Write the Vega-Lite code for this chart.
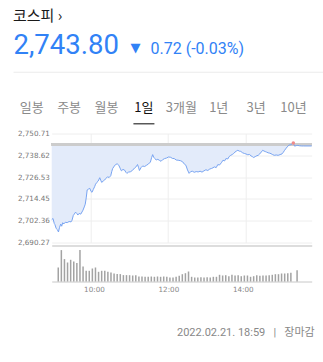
{
  "$schema": "https://vega.github.io/schema/vega-lite/v6.json",
  "background": "white",
  "padding": {"left": 13, "top": 9, "right": 0, "bottom": 0},
  "config": {"view": {"stroke": null}},
  "title": {"text": "코스피 ›", "anchor": "start", "font": "Noto Sans CJK KR", "fontSize": 15, "fontWeight": "normal", "color": "#1a1a1a", "offset": 8},
  "spacing": 4.75,
  "vconcat": [
    {
      "spacing": 9,
      "hconcat": [
        {"width": 1, "height": 24.5, "data": {"values": [{"v": "2,743.80"}]},
         "mark": {"type": "text", "align": "left", "baseline": "alphabetic", "font": "Roboto", "fontSize": 27.5, "color": "#3182f6"},
         "encoding": {"text": {"field": "v"}}},
        {"width": 1, "height": 24.5, "data": {"values": [{"v": "▼"}]},
         "mark": {"type": "text", "align": "left", "baseline": "alphabetic", "font": "DejaVu Sans", "fontSize": 13, "color": "#3182f6", "dx": 2, "dy": -2},
         "encoding": {"text": {"field": "v"}}},
        {"width": 1, "height": 24.5, "data": {"values": [{"v": "0.72 (-0.03%)"}]},
         "mark": {"type": "text", "align": "left", "baseline": "alphabetic", "font": "Roboto", "fontSize": 16, "color": "#3182f6"},
         "encoding": {"text": {"field": "v"}}}
      ]
    },
    {
      "width": 310, "height": 52,
      "data": {"values": [
        {"tab": "일봉", "sel": 0}, {"tab": "주봉", "sel": 0}, {"tab": "월봉", "sel": 0}, {"tab": "1일", "sel": 1},
        {"tab": "3개월", "sel": 0}, {"tab": "1년", "sel": 0}, {"tab": "3년", "sel": 0}, {"tab": "10년", "sel": 0}
      ]},
      "encoding": {
        "x": {"field": "tab", "type": "nominal", "sort": null,
              "scale": {"domain": ["일봉", "주봉", "월봉", "1일", "3개월", "1년", "3년", "10년"], "paddingInner": 0, "paddingOuter": 0.144, "align": 0},
              "axis": {"orient": "top", "title": null, "labels": false, "ticks": false, "domain": true, "domainColor": "#ebebeb", "domainWidth": 1, "grid": false}}
      },
      "layer": [
        {"mark": {"type": "text", "font": "Noto Sans CJK KR", "fontSize": 13, "baseline": "middle", "dy": 10.5},
         "encoding": {"text": {"field": "tab"},
                      "color": {"field": "sel", "type": "nominal", "scale": {"domain": [0, 1], "range": ["#8a8a8a", "#111111"]}, "legend": null}}},
        {"transform": [{"filter": "datum.sel == 1"}],
         "mark": {"type": "tick", "orient": "horizontal", "size": 21, "thickness": 1.5, "color": "#111111", "y": "height"}}
      ]
    },
    {
      "spacing": 2.7,
      "hconcat": [
        {"width": 1, "height": 1, "data": {"values": []}, "mark": "point"},
        {
          "spacing": 1,
          "vconcat": [
            {
              "width": 260, "height": 109,
              "data": {"name": "price"},
              "encoding": {
                "x": {"field": "t", "type": "quantitative", "scale": {"domain": [0, 403], "nice": false, "zero": false},
                      "axis": {"title": null, "values": [60, 180, 300], "labels": false, "ticks": false, "grid": true, "gridColor": "#eeeeee",
                               "domain": true, "domainColor": "#d2d2d2", "domainWidth": 1.5, "offset": 3}},
                "y": {"field": "p", "type": "quantitative", "scale": {"domain": [2690.27, 2750.71], "nice": false, "zero": false},
                      "axis": {"title": null, "values": [2690.27, 2702.36, 2714.45, 2726.53, 2738.62, 2750.71], "format": ",.2f",
                               "grid": true, "gridColor": "#eeeeee", "domain": false, "ticks": false,
                               "labelFont": "DejaVu Sans", "labelFontSize": 7.2, "labelColor": "#777777", "labelPadding": 2.3}}
              },
              "layer": [
                {"mark": {"type": "area", "color": "#e3ebfa"}, "encoding": {"y2": {"datum": 2744.52}}},
                {"mark": {"type": "rule", "color": "#cccccc", "strokeWidth": 1.6}, "encoding": {"y": {"datum": 2744.52, "type": "quantitative"}, "x": null}},
                {"mark": {"type": "line", "color": "#78a4f2", "strokeWidth": 1}},
                {"data": {"values": [{"t": 374.5, "p": 2745.4}]}, "mark": {"type": "point", "filled": true, "color": "#f08a8a", "size": 12, "opacity": 1}}
              ]
            },
            {
              "width": 260, "height": 34,
              "data": {"name": "volume"},
              "title": {"text": "2022.02.21. 18:59\u00a0\u00a0\u00a0|\u00a0\u00a0\u00a0장마감", "orient": "bottom", "anchor": "end", "font": "Roboto, Noto Sans CJK KR",
                        "fontSize": 11, "fontWeight": "normal", "color": "#888888", "offset": 34, "dx": 3},
              "mark": {"type": "bar", "size": 1.5, "color": "#a3a3a3"},
              "encoding": {
                "x": {"field": "t", "type": "quantitative", "scale": {"domain": [0, 403], "nice": false, "zero": false},
                      "axis": {"title": null, "values": [60, 180, 300], "labelExpr": "(floor(datum.value/60)+9) + ':00'", "grid": false, "ticks": false,
                               "domain": true, "domainColor": "#c8c8c8", "domainWidth": 1,
                               "labelFont": "DejaVu Sans", "labelFontSize": 7.2, "labelColor": "#888888", "labelPadding": 4}},
                "y": {"field": "v", "type": "quantitative", "scale": {"domain": [0, 34000], "nice": false}, "axis": null}
              }
            }
          ]
        }
      ]
    }
  ],
  "datasets": {
    "price": [
      {"t": 0, "p": 2702.9}, {"t": 2, "p": 2703.6}, {"t": 4, "p": 2700.8}, {"t": 5, "p": 2700.2}, {"t": 7, "p": 2698.0},
      {"t": 9, "p": 2697.3}, {"t": 10.5, "p": 2696.1}, {"t": 12, "p": 2698.5}, {"t": 14, "p": 2700.5}, {"t": 15.5, "p": 2699.3},
      {"t": 17, "p": 2701.2}, {"t": 19, "p": 2700.6}, {"t": 21, "p": 2701.5}, {"t": 24, "p": 2701.3}, {"t": 27, "p": 2701.9},
      {"t": 30, "p": 2701.7}, {"t": 31.5, "p": 2702.6}, {"t": 33.5, "p": 2705.3}, {"t": 35, "p": 2706.0}, {"t": 37, "p": 2707.1},
      {"t": 39, "p": 2706.3}, {"t": 40.5, "p": 2705.5}, {"t": 42.5, "p": 2706.4}, {"t": 45, "p": 2706.0}, {"t": 47, "p": 2707.2},
      {"t": 48.5, "p": 2708.2}, {"t": 50.5, "p": 2710.0}, {"t": 52, "p": 2711.5}, {"t": 53.5, "p": 2715.0}, {"t": 55, "p": 2719.4},
      {"t": 57, "p": 2719.9}, {"t": 59, "p": 2720.3}, {"t": 61, "p": 2718.6}, {"t": 62.5, "p": 2718.1}, {"t": 64.5, "p": 2719.7},
      {"t": 66.5, "p": 2721.2}, {"t": 68, "p": 2722.6}, {"t": 70, "p": 2723.6}, {"t": 72, "p": 2724.3}, {"t": 74.5, "p": 2726.2},
      {"t": 76, "p": 2724.8}, {"t": 77.5, "p": 2723.6}, {"t": 80, "p": 2724.4}, {"t": 82, "p": 2724.9}, {"t": 84, "p": 2725.8},
      {"t": 86.5, "p": 2726.7}, {"t": 89, "p": 2726.3}, {"t": 91.5, "p": 2727.3}, {"t": 93, "p": 2729.5}, {"t": 94.5, "p": 2731.3},
      {"t": 97, "p": 2732.6}, {"t": 99, "p": 2733.5}, {"t": 101.5, "p": 2733.9}, {"t": 104, "p": 2733.1}, {"t": 106, "p": 2731.5},
      {"t": 108, "p": 2730.0}, {"t": 110.5, "p": 2730.8}, {"t": 113, "p": 2730.4}, {"t": 115, "p": 2729.2}, {"t": 116.5, "p": 2728.6},
      {"t": 119, "p": 2729.3}, {"t": 122, "p": 2729.5}, {"t": 125, "p": 2730.2}, {"t": 128.5, "p": 2731.6}, {"t": 131, "p": 2732.3},
      {"t": 133, "p": 2733.5}, {"t": 134.5, "p": 2732.0}, {"t": 136, "p": 2730.2}, {"t": 138.5, "p": 2731.8}, {"t": 141, "p": 2732.7},
      {"t": 144, "p": 2732.4}, {"t": 147, "p": 2733.1}, {"t": 150, "p": 2733.8}, {"t": 153, "p": 2734.9}, {"t": 155, "p": 2737.5},
      {"t": 156.5, "p": 2739.0}, {"t": 158, "p": 2737.6}, {"t": 160, "p": 2736.8}, {"t": 162, "p": 2736.0}, {"t": 164.5, "p": 2736.4},
      {"t": 167, "p": 2735.8}, {"t": 169.5, "p": 2735.3}, {"t": 172, "p": 2736.2}, {"t": 175, "p": 2736.8}, {"t": 178, "p": 2737.1},
      {"t": 181, "p": 2737.7}, {"t": 184.5, "p": 2737.5}, {"t": 187, "p": 2736.9}, {"t": 190, "p": 2736.8}, {"t": 193, "p": 2736.0},
      {"t": 196, "p": 2735.9}, {"t": 200, "p": 2735.6}, {"t": 203, "p": 2735.0}, {"t": 206, "p": 2733.6}, {"t": 208, "p": 2733.1},
      {"t": 210.5, "p": 2730.5}, {"t": 213, "p": 2728.6}, {"t": 215.5, "p": 2729.6}, {"t": 218, "p": 2729.8}, {"t": 221, "p": 2729.2},
      {"t": 224, "p": 2729.6}, {"t": 227, "p": 2729.4}, {"t": 230, "p": 2729.8}, {"t": 233, "p": 2729.3}, {"t": 236, "p": 2730.0},
      {"t": 239, "p": 2730.6}, {"t": 242, "p": 2730.2}, {"t": 245, "p": 2731.0}, {"t": 247.5, "p": 2731.3}, {"t": 250, "p": 2731.7},
      {"t": 252, "p": 2732.2}, {"t": 255, "p": 2731.8}, {"t": 257.5, "p": 2733.5}, {"t": 260, "p": 2733.2}, {"t": 263, "p": 2734.5},
      {"t": 265.5, "p": 2735.9}, {"t": 268, "p": 2735.5}, {"t": 270, "p": 2736.8}, {"t": 273, "p": 2736.6}, {"t": 275, "p": 2737.9},
      {"t": 277.5, "p": 2738.6}, {"t": 280, "p": 2739.1}, {"t": 282, "p": 2739.6}, {"t": 284, "p": 2740.4}, {"t": 286.5, "p": 2741.0},
      {"t": 288.5, "p": 2741.4}, {"t": 291, "p": 2740.9}, {"t": 293, "p": 2740.8}, {"t": 296, "p": 2740.0}, {"t": 299, "p": 2739.6},
      {"t": 301, "p": 2739.4}, {"t": 304, "p": 2738.9}, {"t": 306.5, "p": 2739.1}, {"t": 309, "p": 2738.3}, {"t": 311, "p": 2737.9},
      {"t": 313, "p": 2737.4}, {"t": 315.5, "p": 2737.9}, {"t": 318, "p": 2738.4}, {"t": 320, "p": 2738.6}, {"t": 322.5, "p": 2739.4},
      {"t": 325, "p": 2740.5}, {"t": 327, "p": 2741.4}, {"t": 329, "p": 2741.0}, {"t": 331, "p": 2740.7}, {"t": 333, "p": 2740.4},
      {"t": 335.5, "p": 2740.0}, {"t": 338, "p": 2739.8}, {"t": 340, "p": 2739.5}, {"t": 342.5, "p": 2739.0}, {"t": 345, "p": 2738.6},
      {"t": 348, "p": 2738.8}, {"t": 351, "p": 2738.6}, {"t": 354, "p": 2739.0}, {"t": 357, "p": 2739.4}, {"t": 359, "p": 2740.3},
      {"t": 361, "p": 2741.4}, {"t": 363.5, "p": 2742.6}, {"t": 366, "p": 2743.7}, {"t": 368, "p": 2744.3}, {"t": 370.5, "p": 2744.5},
      {"t": 372.5, "p": 2744.9}, {"t": 374.5, "p": 2745.4}, {"t": 376.5, "p": 2743.7}, {"t": 379, "p": 2744.0}, {"t": 381.5, "p": 2744.1},
      {"t": 384, "p": 2743.9}, {"t": 387.5, "p": 2743.8}, {"t": 390, "p": 2743.8}, {"t": 403, "p": 2743.8}
    ],
    "volume": [
      {"t": 2.5, "v": 14000}, {"t": 7.5, "v": 31400}, {"t": 12.5, "v": 22400}, {"t": 17.5, "v": 19000}, {"t": 22.5, "v": 21700},
      {"t": 27.5, "v": 20000}, {"t": 32.5, "v": 18400}, {"t": 37.5, "v": 31400}, {"t": 42.5, "v": 15000}, {"t": 47.5, "v": 10700},
      {"t": 52.5, "v": 10700}, {"t": 57.5, "v": 13000}, {"t": 62.5, "v": 14000}, {"t": 67.5, "v": 9700}, {"t": 72.5, "v": 10700},
      {"t": 77.5, "v": 10700}, {"t": 82.5, "v": 9700}, {"t": 87.5, "v": 9000}, {"t": 92.5, "v": 8000}, {"t": 97.5, "v": 7400},
      {"t": 102.5, "v": 7400}, {"t": 107.5, "v": 6400}, {"t": 112.5, "v": 6400}, {"t": 117.5, "v": 6300}, {"t": 122.5, "v": 6000},
      {"t": 127.5, "v": 6300}, {"t": 132.5, "v": 5000}, {"t": 137.5, "v": 5000}, {"t": 142.5, "v": 4700}, {"t": 147.5, "v": 4700},
      {"t": 152.5, "v": 5000}, {"t": 157.5, "v": 4700}, {"t": 162.5, "v": 5000}, {"t": 167.5, "v": 4700}, {"t": 172.5, "v": 5000},
      {"t": 177.5, "v": 4700}, {"t": 182.5, "v": 4000}, {"t": 187.5, "v": 4000}, {"t": 192.5, "v": 4700}, {"t": 197.5, "v": 5700},
      {"t": 202.5, "v": 7300}, {"t": 207.5, "v": 8300}, {"t": 212.5, "v": 10000}, {"t": 217.5, "v": 4700}, {"t": 222.5, "v": 4000},
      {"t": 227.5, "v": 4000}, {"t": 232.5, "v": 4300}, {"t": 237.5, "v": 4000}, {"t": 242.5, "v": 4300}, {"t": 247.5, "v": 4000},
      {"t": 252.5, "v": 4700}, {"t": 257.5, "v": 4700}, {"t": 262.5, "v": 6700}, {"t": 267.5, "v": 6000}, {"t": 272.5, "v": 6300},
      {"t": 277.5, "v": 5300}, {"t": 282.5, "v": 6700}, {"t": 287.5, "v": 6000}, {"t": 292.5, "v": 6300}, {"t": 297.5, "v": 5300},
      {"t": 302.5, "v": 6000}, {"t": 307.5, "v": 6000}, {"t": 312.5, "v": 4700}, {"t": 317.5, "v": 5300}, {"t": 322.5, "v": 6300},
      {"t": 327.5, "v": 5700}, {"t": 332.5, "v": 6000}, {"t": 337.5, "v": 6000}, {"t": 342.5, "v": 6300}, {"t": 347.5, "v": 6700},
      {"t": 352.5, "v": 7300}, {"t": 357.5, "v": 7300}, {"t": 362.5, "v": 8000}, {"t": 367.5, "v": 8000}, {"t": 372.5, "v": 8300},
      {"t": 377.5, "v": 8700}, {"t": 387.5, "v": 11300}
    ]
  }
}
